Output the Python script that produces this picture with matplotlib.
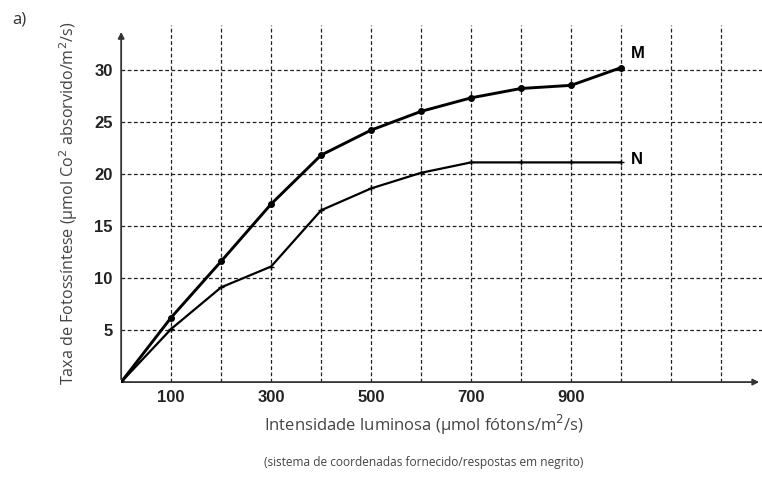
import matplotlib.pyplot as plt

luz = [0, 100, 200, 300, 400, 500, 600, 700, 800, 900, 1000]
taxa_m = [0, 6.2, 11.6, 17.1, 21.8, 24.2, 26.0, 27.3, 28.2, 28.5, 30.2]
taxa_n = [0, 5.1, 9.1, 11.1, 16.5, 18.6, 20.1, 21.1, 21.1, 21.1, 21.1]

x_grid = list(range(100, 1300, 100))
x_labels = ['100', '', '300', '', '500', '', '700', '', '900', '', '', '']
y_grid = [5, 10, 15, 20, 25, 30]

fig = plt.figure(figsize=(7.62, 4.8), dpi=100)
ax = fig.add_axes([0.159, 0.204, 0.841, 0.744])
ax.set_xlim(0, 1282)
ax.set_ylim(0, 34.3)

for s in ax.spines.values():
    s.set_visible(False)

ax.set_xticks(x_grid)
ax.set_xticklabels(x_labels, fontsize=12, fontweight='bold', family='Liberation Sans', color='#222222')
ax.set_yticks(y_grid)
ax.set_yticklabels([str(v) for v in y_grid], fontsize=12, fontweight='bold', family='Liberation Sans', color='#222222')
ax.tick_params(length=0, pad=6)
ax.grid(True, color='#222222', linestyle=(0, (3, 2)), linewidth=0.9)

# axes with arrows
ax.annotate('', xy=(0, 33.9), xytext=(0, 0),
            arrowprops=dict(arrowstyle='-|>', color='#333333', lw=1.3, mutation_scale=9))
ax.annotate('', xy=(1282, 0), xytext=(0, 0), annotation_clip=False,
            arrowprops=dict(arrowstyle='-|>', color='#333333', lw=1.3, mutation_scale=9))

ax.plot(luz, taxa_m, color='black', lw=2.1, marker='o', markersize=4)
ax.plot(luz, taxa_n, color='black', lw=1.6, marker='+', markersize=4)

ax.text(1020, 31.6, 'M', fontsize=12, fontweight='bold', family='Liberation Sans', va='center')
ax.text(1020, 21.4, 'N', fontsize=12, fontweight='bold', family='Liberation Sans', va='center')

ax.set_xlabel('Intensidade luminosa (µmol fótons/m$^2$/s)', fontsize=12, family='Open Sans',
              color='#444444')
ax.xaxis.set_label_coords(0.473, -0.085)
ax.set_ylabel('Taxa de Fotossíntese (µmol Co$^2$ absorvido/m$^2$/s)', fontsize=11.6, family='Open Sans',
              color='#444444', labelpad=10)

fig.text(0.016, 0.975, 'a)', fontsize=12, family='Open Sans', color='#333333', va='top')
fig.text(0.556, 0.03, '(sistema de coordenadas fornecido/respostas em negrito)', fontsize=8.6,
         family='Open Sans', color='#444444', ha='center')

fig.savefig('out.png', dpi=100)
